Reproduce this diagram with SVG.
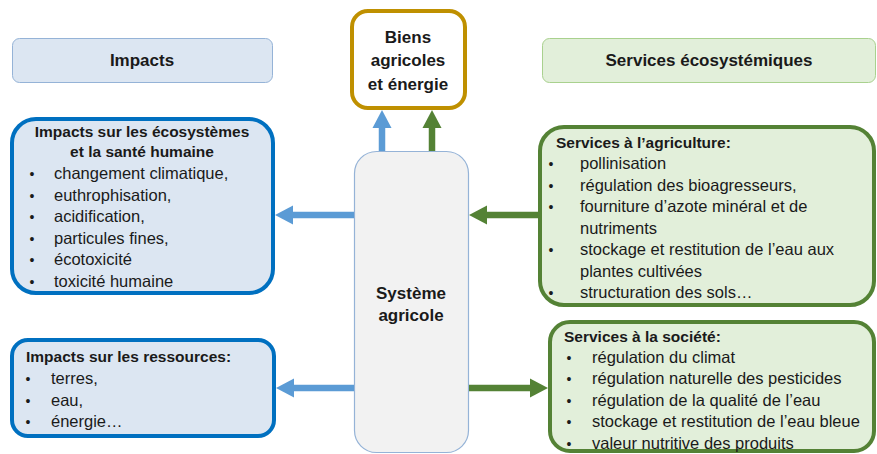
<svg xmlns="http://www.w3.org/2000/svg" width="877" height="454" viewBox="0 0 877 454">
<style>
text{font-family:"Liberation Sans",Arial,sans-serif;fill:#1a1a1a}
.h{font-size:17px;font-weight:bold;text-anchor:middle}
.t{font-size:15.5px;font-weight:bold}
.r{font-size:16.5px}
.b{font-size:14px;text-anchor:middle}
.blue{fill:#dce6f2;stroke:#0070c0;stroke-width:4}
.green{fill:#e2efda;stroke:#548235;stroke-width:4}
.ab{stroke:#5b9bd5;stroke-width:6.5;fill:none}
.ag{stroke:#548235;stroke-width:6.5;fill:none}
</style>
<defs>
<marker id="mb" markerUnits="userSpaceOnUse" markerWidth="19" markerHeight="19" refX="0" refY="9.5" orient="auto" overflow="visible"><path d="M0,0 L18,9.5 L0,19 Z" fill="#5b9bd5"/></marker>
<marker id="mg" markerUnits="userSpaceOnUse" markerWidth="19" markerHeight="19" refX="0" refY="9.5" orient="auto" overflow="visible"><path d="M0,0 L18,9.5 L0,19 Z" fill="#548235"/></marker>
</defs>

<g id="header-impacts">
<rect x="12.5" y="38.5" width="260" height="44" rx="7" fill="#dce6f2" stroke="#95b3d7" stroke-width="1"/>
<text class="h" x="142" y="66">Impacts</text>
</g>
<g id="header-services">
<rect x="542.5" y="38.5" width="333" height="44" rx="7" fill="#e2efda" stroke="#a9d18e" stroke-width="1"/>
<text class="h" x="709" y="66">Services écosystémiques</text>
</g>

<g id="biens">
<rect x="352" y="11" width="113" height="97" rx="16" fill="#fff" stroke="#bf9000" stroke-width="4"/>
<text class="h" x="408" y="43">Biens</text>
<text class="h" x="408" y="66">agricoles</text>
<text class="h" x="408" y="90">et énergie</text>
</g>

<g id="systeme">
<rect x="354.5" y="151.5" width="114" height="301" rx="22" fill="#f2f2f2" stroke="#95b3d7" stroke-width="1.2"/>
<text class="h" x="411" y="299">Système</text>
<text class="h" x="411" y="321">agricole</text>
</g>

<g id="impacts-eco">
<rect class="blue" x="12" y="119" width="261" height="174" rx="24"/>
<text class="t" x="142" y="137" text-anchor="middle">Impacts sur les écosystèmes</text>
<text class="t" x="142" y="157" text-anchor="middle">et la santé humaine</text>
<text class="b" x="32" y="179">•</text><text class="r" x="54" y="179">changement climatique,</text>
<text class="b" x="32" y="200.5">•</text><text class="r" x="54" y="200.5">euthrophisation,</text>
<text class="b" x="32" y="222">•</text><text class="r" x="54" y="222">acidification,</text>
<text class="b" x="32" y="243.5">•</text><text class="r" x="54" y="243.5">particules fines,</text>
<text class="b" x="32" y="265">•</text><text class="r" x="54" y="265">écotoxicité</text>
<text class="b" x="32" y="286.5">•</text><text class="r" x="54" y="286.5">toxicité humaine</text>
</g>

<g id="impacts-ressources">
<rect class="blue" x="12" y="340" width="262" height="96" rx="16"/>
<text class="t" x="26" y="362">Impacts sur les ressources:</text>
<text class="b" x="28" y="384">•</text><text class="r" x="51" y="384">terres,</text>
<text class="b" x="28" y="405.5">•</text><text class="r" x="51" y="405.5">eau,</text>
<text class="b" x="28" y="427">•</text><text class="r" x="51" y="427">énergie…</text>
</g>

<g id="services-agriculture">
<rect class="green" x="540" y="127" width="334" height="178" rx="24"/>
<text class="t" x="556" y="147.5">Services à l’agriculture:</text>
<text class="b" x="551" y="169">•</text><text class="r" x="580" y="169">pollinisation</text>
<text class="b" x="551" y="190.5">•</text><text class="r" x="580" y="190.5">régulation des bioagresseurs,</text>
<text class="b" x="551" y="212">•</text><text class="r" x="580" y="212">fourniture d’azote minéral et de</text>
<text class="r" x="580" y="233.5">nutriments</text>
<text class="b" x="551" y="255">•</text><text class="r" x="580" y="255">stockage et restitution de l’eau aux</text>
<text class="r" x="580" y="276.5">plantes cultivées</text>
<text class="b" x="551" y="298">•</text><text class="r" x="580" y="298">structuration des sols…</text>
</g>

<g id="services-societe">
<rect class="green" x="550" y="322" width="324" height="129" rx="20"/>
<text class="t" x="564" y="342">Services à la société:</text>
<text class="b" x="569" y="363">•</text><text class="r" x="592" y="363">régulation du climat</text>
<text class="b" x="569" y="384">•</text><text class="r" x="592" y="384">régulation naturelle des pesticides</text>
<text class="b" x="569" y="405.5">•</text><text class="r" x="592" y="405.5">régulation de la qualité de l’eau</text>
<text class="b" x="569" y="427">•</text><text class="r" x="592" y="427">stockage et restitution de l’eau bleue</text>
<text class="b" x="569" y="448.5">•</text><text class="r" x="592" y="448.5">valeur nutritive des produits</text>
</g>

<g id="connectors">
<line class="ab" x1="382" y1="151" x2="382" y2="128" marker-end="url(#mb)"/>
<line class="ag" x1="432" y1="151" x2="432" y2="128" marker-end="url(#mg)"/>
<line class="ab" x1="354" y1="215" x2="293" y2="215" marker-end="url(#mb)"/>
<line class="ag" x1="538" y1="215" x2="487" y2="215" marker-end="url(#mg)"/>
<line class="ab" x1="354" y1="388" x2="294" y2="388" marker-end="url(#mb)"/>
<line class="ag" x1="469" y1="388" x2="530" y2="388" marker-end="url(#mg)"/>
</g>
</svg>
